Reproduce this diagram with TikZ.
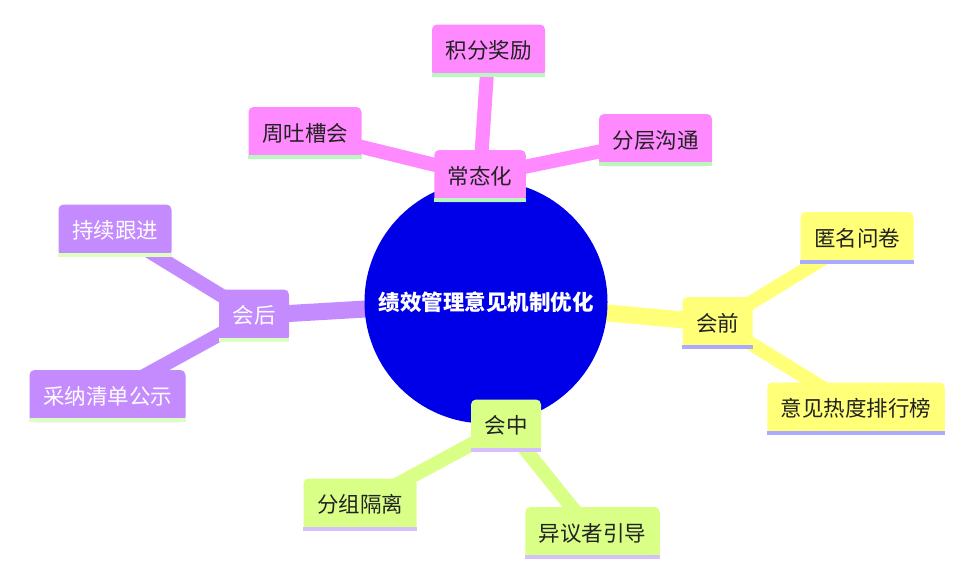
\documentclass[tikz,border=0pt]{standalone}
\usepackage{fontspec}
\setmainfont{Noto Sans CJK SC}
\usetikzlibrary{backgrounds}

\definecolor{rootblue}{HTML}{0000E8}
\definecolor{pinkfill}{HTML}{FF8AFF}
\definecolor{pinkbar}{HTML}{B8F8C0}
\definecolor{yellowfill}{HTML}{FFFF78}
\definecolor{yellowbar}{HTML}{AAAAFF}
\definecolor{limefill}{HTML}{D9FF86}
\definecolor{limebar}{HTML}{D6BFFF}
\definecolor{purplefill}{HTML}{C48BFF}
\definecolor{purplebar}{HTML}{DCFFC0}
\definecolor{inkgray}{HTML}{222222}

\begin{document}
\begin{tikzpicture}[x=1pt,y=-1pt,
    idea/.style={rectangle, rounded corners=5pt, minimum height=52pt, inner xsep=13.5pt, inner ysep=0pt,
        font=\fontsize{21.5}{26}\selectfont, text=inkgray},
    root node/.style={circle, fill=rootblue, minimum size=243pt, inner sep=0pt,
        font=\fontsize{21.5}{26}\selectfont\bfseries, text=white},
    trunk/.style={line width=17pt},
    twig/.style={line width=14pt}]

    \useasboundingbox (0,0) rectangle (974,579);

    \node[root node] (root) at (486,302) {绩效管理意见机制优化};

    % section: routine
    \node[idea, fill=pinkfill] (routine) at (480,176) {常态化};
    \node[idea, fill=pinkfill] (reward) at (488.5,50.5) {积分奖励};
    \node[idea, fill=pinkfill] (layer) at (655.5,140) {分层沟通};
    \node[idea, fill=pinkfill] (vent) at (305,133) {周吐槽会};

    % section: before
    \node[idea, fill=yellowfill] (before) at (717.5,323) {会前};
    \node[idea, fill=yellowfill] (survey) at (857,238) {匿名问卷};
    \node[idea, fill=yellowfill] (rank) at (856,408.5) {意见热度排行榜};

    % section: during
    \node[idea, fill=limefill] (during) at (506,425.5) {会中};
    \node[idea, fill=limefill] (group) at (360,504.5) {分组隔离};
    \node[idea, fill=limefill] (guide) at (592.5,533) {异议者引导};

    % section: after
    \node[idea, fill=purplefill, text=white] (after) at (254,315.5) {会后};
    \node[idea, fill=purplefill, text=white] (follow) at (115,230.5) {持续跟进};
    \node[idea, fill=purplefill, text=white] (publish) at (107.5,396) {采纳清单公示};

    \foreach \n/\c in {routine/pinkbar, reward/pinkbar, layer/pinkbar, vent/pinkbar,
                       before/yellowbar, survey/yellowbar, rank/yellowbar,
                       during/limebar, group/limebar, guide/limebar,
                       after/purplebar, follow/purplebar, publish/purplebar}
        \fill[\c] (\n.south west) rectangle ([yshift=4pt]\n.south east);

    \begin{pgfonlayer}{background}
        \draw[trunk, pinkfill] (root.center) -- (routine.center);
        \draw[trunk, yellowfill] (root.center) -- (before.center);
        \draw[trunk, limefill] (root.center) -- (during.center);
        \draw[trunk, purplefill] (root.center) -- (after.center);

        \draw[twig, pinkfill] (routine.center) -- (reward.center);
        \draw[twig, pinkfill] (routine.center) -- (layer.center);
        \draw[twig, pinkfill] (routine.center) -- (vent.center);
        \draw[twig, yellowfill] (before.center) -- (survey.center);
        \draw[twig, yellowfill] (before.center) -- (rank.center);
        \draw[twig, limefill] (during.center) -- (group.center);
        \draw[twig, limefill] (during.center) -- (guide.center);
        \draw[twig, purplefill] (after.center) -- (follow.center);
        \draw[twig, purplefill] (after.center) -- (publish.center);
    \end{pgfonlayer}
\end{tikzpicture}
\end{document}
